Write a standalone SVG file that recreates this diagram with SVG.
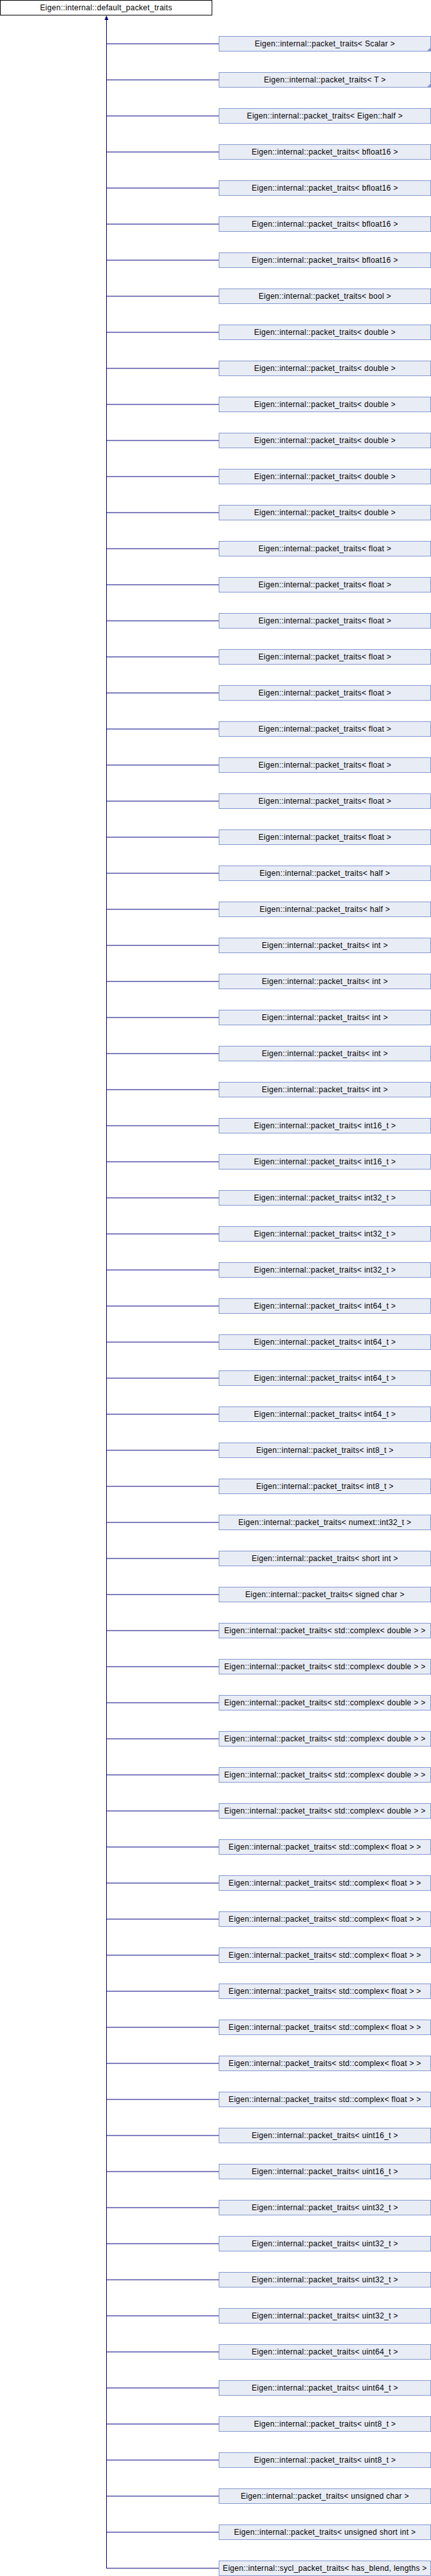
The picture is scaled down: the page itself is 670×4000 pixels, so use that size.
<svg xmlns="http://www.w3.org/2000/svg" width="670" height="4000" viewBox="0 0 670 4000">
<style>
text{font-family:"Liberation Sans",Arial,sans-serif;font-size:12px;letter-spacing:0.3px;text-anchor:middle;fill:#000}
.c{fill:#E8ECF5;stroke:#8497CF;stroke-width:1}
.tri{fill:#8497CF}
.root{fill:#fff;stroke:#000;stroke-width:1}
.e{stroke:#000080;stroke-width:1;fill:none}
</style>
<g id="root"><rect class="root" x="0.5" y="0.5" width="329" height="23"/><text x="165" y="16">Eigen::internal::default_packet_traits</text></g>
<g id="edges">
<polygon points="165.5,24 162.5,31 168.5,31" fill="#000080"/>
<path class="e" d="M165.5 30V3988M165.5 68H340M165.5 124H340M165.5 180H340M165.5 236H340M165.5 292H340M165.5 348H340M165.5 404H340M165.5 460H340M165.5 516H340M165.5 572H340M165.5 628H340M165.5 684H340M165.5 740H340M165.5 796H340M165.5 852H340M165.5 908H340M165.5 964H340M165.5 1020H340M165.5 1076H340M165.5 1132H340M165.5 1188H340M165.5 1244H340M165.5 1300H340M165.5 1356H340M165.5 1412H340M165.5 1468H340M165.5 1524H340M165.5 1580H340M165.5 1636H340M165.5 1692H340M165.5 1748H340M165.5 1804H340M165.5 1860H340M165.5 1916H340M165.5 1972H340M165.5 2028H340M165.5 2084H340M165.5 2140H340M165.5 2196H340M165.5 2252H340M165.5 2308H340M165.5 2364H340M165.5 2420H340M165.5 2476H340M165.5 2532H340M165.5 2588H340M165.5 2644H340M165.5 2700H340M165.5 2756H340M165.5 2812H340M165.5 2868H340M165.5 2924H340M165.5 2980H340M165.5 3036H340M165.5 3092H340M165.5 3148H340M165.5 3204H340M165.5 3260H340M165.5 3316H340M165.5 3372H340M165.5 3428H340M165.5 3484H340M165.5 3540H340M165.5 3596H340M165.5 3652H340M165.5 3708H340M165.5 3764H340M165.5 3820H340M165.5 3876H340M165.5 3932H340M165.5 3988H340"/>
</g>
<g id="n0"><rect class="c" x="340.5" y="56.5" width="329" height="23"/><polygon class="tri" points="669.5,73.5 669.5,79.5 663.5,79.5"/><text x="505" y="72">Eigen::internal::packet_traits&lt; Scalar &gt;</text></g>
<g id="n1" transform="translate(0,56)"><rect class="c" x="340.5" y="56.5" width="329" height="23"/><polygon class="tri" points="669.5,73.5 669.5,79.5 663.5,79.5"/><text x="505" y="72">Eigen::internal::packet_traits&lt; T &gt;</text></g>
<g id="n2" transform="translate(0,112)"><rect class="c" x="340.5" y="56.5" width="329" height="23"/><text x="505" y="72">Eigen::internal::packet_traits&lt; Eigen::half &gt;</text></g>
<g id="n3" transform="translate(0,168)"><rect class="c" x="340.5" y="56.5" width="329" height="23"/><text x="505" y="72">Eigen::internal::packet_traits&lt; bfloat16 &gt;</text></g>
<g id="n4" transform="translate(0,224)"><rect class="c" x="340.5" y="56.5" width="329" height="23"/><text x="505" y="72">Eigen::internal::packet_traits&lt; bfloat16 &gt;</text></g>
<g id="n5" transform="translate(0,280)"><rect class="c" x="340.5" y="56.5" width="329" height="23"/><text x="505" y="72">Eigen::internal::packet_traits&lt; bfloat16 &gt;</text></g>
<g id="n6" transform="translate(0,336)"><rect class="c" x="340.5" y="56.5" width="329" height="23"/><text x="505" y="72">Eigen::internal::packet_traits&lt; bfloat16 &gt;</text></g>
<g id="n7" transform="translate(0,392)"><rect class="c" x="340.5" y="56.5" width="329" height="23"/><text x="505" y="72">Eigen::internal::packet_traits&lt; bool &gt;</text></g>
<g id="n8" transform="translate(0,448)"><rect class="c" x="340.5" y="56.5" width="329" height="23"/><text x="505" y="72">Eigen::internal::packet_traits&lt; double &gt;</text></g>
<g id="n9" transform="translate(0,504)"><rect class="c" x="340.5" y="56.5" width="329" height="23"/><text x="505" y="72">Eigen::internal::packet_traits&lt; double &gt;</text></g>
<g id="n10" transform="translate(0,560)"><rect class="c" x="340.5" y="56.5" width="329" height="23"/><text x="505" y="72">Eigen::internal::packet_traits&lt; double &gt;</text></g>
<g id="n11" transform="translate(0,616)"><rect class="c" x="340.5" y="56.5" width="329" height="23"/><text x="505" y="72">Eigen::internal::packet_traits&lt; double &gt;</text></g>
<g id="n12" transform="translate(0,672)"><rect class="c" x="340.5" y="56.5" width="329" height="23"/><text x="505" y="72">Eigen::internal::packet_traits&lt; double &gt;</text></g>
<g id="n13" transform="translate(0,728)"><rect class="c" x="340.5" y="56.5" width="329" height="23"/><text x="505" y="72">Eigen::internal::packet_traits&lt; double &gt;</text></g>
<g id="n14" transform="translate(0,784)"><rect class="c" x="340.5" y="56.5" width="329" height="23"/><text x="505" y="72">Eigen::internal::packet_traits&lt; float &gt;</text></g>
<g id="n15" transform="translate(0,840)"><rect class="c" x="340.5" y="56.5" width="329" height="23"/><text x="505" y="72">Eigen::internal::packet_traits&lt; float &gt;</text></g>
<g id="n16" transform="translate(0,896)"><rect class="c" x="340.5" y="56.5" width="329" height="23"/><text x="505" y="72">Eigen::internal::packet_traits&lt; float &gt;</text></g>
<g id="n17" transform="translate(0,952)"><rect class="c" x="340.5" y="56.5" width="329" height="23"/><text x="505" y="72">Eigen::internal::packet_traits&lt; float &gt;</text></g>
<g id="n18" transform="translate(0,1008)"><rect class="c" x="340.5" y="56.5" width="329" height="23"/><text x="505" y="72">Eigen::internal::packet_traits&lt; float &gt;</text></g>
<g id="n19" transform="translate(0,1064)"><rect class="c" x="340.5" y="56.5" width="329" height="23"/><text x="505" y="72">Eigen::internal::packet_traits&lt; float &gt;</text></g>
<g id="n20" transform="translate(0,1120)"><rect class="c" x="340.5" y="56.5" width="329" height="23"/><text x="505" y="72">Eigen::internal::packet_traits&lt; float &gt;</text></g>
<g id="n21" transform="translate(0,1176)"><rect class="c" x="340.5" y="56.5" width="329" height="23"/><text x="505" y="72">Eigen::internal::packet_traits&lt; float &gt;</text></g>
<g id="n22" transform="translate(0,1232)"><rect class="c" x="340.5" y="56.5" width="329" height="23"/><text x="505" y="72">Eigen::internal::packet_traits&lt; float &gt;</text></g>
<g id="n23" transform="translate(0,1288)"><rect class="c" x="340.5" y="56.5" width="329" height="23"/><text x="505" y="72">Eigen::internal::packet_traits&lt; half &gt;</text></g>
<g id="n24" transform="translate(0,1344)"><rect class="c" x="340.5" y="56.5" width="329" height="23"/><text x="505" y="72">Eigen::internal::packet_traits&lt; half &gt;</text></g>
<g id="n25" transform="translate(0,1400)"><rect class="c" x="340.5" y="56.5" width="329" height="23"/><text x="505" y="72">Eigen::internal::packet_traits&lt; int &gt;</text></g>
<g id="n26" transform="translate(0,1456)"><rect class="c" x="340.5" y="56.5" width="329" height="23"/><text x="505" y="72">Eigen::internal::packet_traits&lt; int &gt;</text></g>
<g id="n27" transform="translate(0,1512)"><rect class="c" x="340.5" y="56.5" width="329" height="23"/><text x="505" y="72">Eigen::internal::packet_traits&lt; int &gt;</text></g>
<g id="n28" transform="translate(0,1568)"><rect class="c" x="340.5" y="56.5" width="329" height="23"/><text x="505" y="72">Eigen::internal::packet_traits&lt; int &gt;</text></g>
<g id="n29" transform="translate(0,1624)"><rect class="c" x="340.5" y="56.5" width="329" height="23"/><text x="505" y="72">Eigen::internal::packet_traits&lt; int &gt;</text></g>
<g id="n30" transform="translate(0,1680)"><rect class="c" x="340.5" y="56.5" width="329" height="23"/><text x="505" y="72">Eigen::internal::packet_traits&lt; int16_t &gt;</text></g>
<g id="n31" transform="translate(0,1736)"><rect class="c" x="340.5" y="56.5" width="329" height="23"/><text x="505" y="72">Eigen::internal::packet_traits&lt; int16_t &gt;</text></g>
<g id="n32" transform="translate(0,1792)"><rect class="c" x="340.5" y="56.5" width="329" height="23"/><text x="505" y="72">Eigen::internal::packet_traits&lt; int32_t &gt;</text></g>
<g id="n33" transform="translate(0,1848)"><rect class="c" x="340.5" y="56.5" width="329" height="23"/><text x="505" y="72">Eigen::internal::packet_traits&lt; int32_t &gt;</text></g>
<g id="n34" transform="translate(0,1904)"><rect class="c" x="340.5" y="56.5" width="329" height="23"/><text x="505" y="72">Eigen::internal::packet_traits&lt; int32_t &gt;</text></g>
<g id="n35" transform="translate(0,1960)"><rect class="c" x="340.5" y="56.5" width="329" height="23"/><text x="505" y="72">Eigen::internal::packet_traits&lt; int64_t &gt;</text></g>
<g id="n36" transform="translate(0,2016)"><rect class="c" x="340.5" y="56.5" width="329" height="23"/><text x="505" y="72">Eigen::internal::packet_traits&lt; int64_t &gt;</text></g>
<g id="n37" transform="translate(0,2072)"><rect class="c" x="340.5" y="56.5" width="329" height="23"/><text x="505" y="72">Eigen::internal::packet_traits&lt; int64_t &gt;</text></g>
<g id="n38" transform="translate(0,2128)"><rect class="c" x="340.5" y="56.5" width="329" height="23"/><text x="505" y="72">Eigen::internal::packet_traits&lt; int64_t &gt;</text></g>
<g id="n39" transform="translate(0,2184)"><rect class="c" x="340.5" y="56.5" width="329" height="23"/><text x="505" y="72">Eigen::internal::packet_traits&lt; int8_t &gt;</text></g>
<g id="n40" transform="translate(0,2240)"><rect class="c" x="340.5" y="56.5" width="329" height="23"/><text x="505" y="72">Eigen::internal::packet_traits&lt; int8_t &gt;</text></g>
<g id="n41" transform="translate(0,2296)"><rect class="c" x="340.5" y="56.5" width="329" height="23"/><text x="505" y="72">Eigen::internal::packet_traits&lt; numext::int32_t &gt;</text></g>
<g id="n42" transform="translate(0,2352)"><rect class="c" x="340.5" y="56.5" width="329" height="23"/><text x="505" y="72">Eigen::internal::packet_traits&lt; short int &gt;</text></g>
<g id="n43" transform="translate(0,2408)"><rect class="c" x="340.5" y="56.5" width="329" height="23"/><text x="505" y="72">Eigen::internal::packet_traits&lt; signed char &gt;</text></g>
<g id="n44" transform="translate(0,2464)"><rect class="c" x="340.5" y="56.5" width="329" height="23"/><text x="505" y="72">Eigen::internal::packet_traits&lt; std::complex&lt; double &gt; &gt;</text></g>
<g id="n45" transform="translate(0,2520)"><rect class="c" x="340.5" y="56.5" width="329" height="23"/><text x="505" y="72">Eigen::internal::packet_traits&lt; std::complex&lt; double &gt; &gt;</text></g>
<g id="n46" transform="translate(0,2576)"><rect class="c" x="340.5" y="56.5" width="329" height="23"/><text x="505" y="72">Eigen::internal::packet_traits&lt; std::complex&lt; double &gt; &gt;</text></g>
<g id="n47" transform="translate(0,2632)"><rect class="c" x="340.5" y="56.5" width="329" height="23"/><text x="505" y="72">Eigen::internal::packet_traits&lt; std::complex&lt; double &gt; &gt;</text></g>
<g id="n48" transform="translate(0,2688)"><rect class="c" x="340.5" y="56.5" width="329" height="23"/><text x="505" y="72">Eigen::internal::packet_traits&lt; std::complex&lt; double &gt; &gt;</text></g>
<g id="n49" transform="translate(0,2744)"><rect class="c" x="340.5" y="56.5" width="329" height="23"/><text x="505" y="72">Eigen::internal::packet_traits&lt; std::complex&lt; double &gt; &gt;</text></g>
<g id="n50" transform="translate(0,2800)"><rect class="c" x="340.5" y="56.5" width="329" height="23"/><text x="505" y="72">Eigen::internal::packet_traits&lt; std::complex&lt; float &gt; &gt;</text></g>
<g id="n51" transform="translate(0,2856)"><rect class="c" x="340.5" y="56.5" width="329" height="23"/><text x="505" y="72">Eigen::internal::packet_traits&lt; std::complex&lt; float &gt; &gt;</text></g>
<g id="n52" transform="translate(0,2912)"><rect class="c" x="340.5" y="56.5" width="329" height="23"/><text x="505" y="72">Eigen::internal::packet_traits&lt; std::complex&lt; float &gt; &gt;</text></g>
<g id="n53" transform="translate(0,2968)"><rect class="c" x="340.5" y="56.5" width="329" height="23"/><text x="505" y="72">Eigen::internal::packet_traits&lt; std::complex&lt; float &gt; &gt;</text></g>
<g id="n54" transform="translate(0,3024)"><rect class="c" x="340.5" y="56.5" width="329" height="23"/><text x="505" y="72">Eigen::internal::packet_traits&lt; std::complex&lt; float &gt; &gt;</text></g>
<g id="n55" transform="translate(0,3080)"><rect class="c" x="340.5" y="56.5" width="329" height="23"/><text x="505" y="72">Eigen::internal::packet_traits&lt; std::complex&lt; float &gt; &gt;</text></g>
<g id="n56" transform="translate(0,3136)"><rect class="c" x="340.5" y="56.5" width="329" height="23"/><text x="505" y="72">Eigen::internal::packet_traits&lt; std::complex&lt; float &gt; &gt;</text></g>
<g id="n57" transform="translate(0,3192)"><rect class="c" x="340.5" y="56.5" width="329" height="23"/><text x="505" y="72">Eigen::internal::packet_traits&lt; std::complex&lt; float &gt; &gt;</text></g>
<g id="n58" transform="translate(0,3248)"><rect class="c" x="340.5" y="56.5" width="329" height="23"/><text x="505" y="72">Eigen::internal::packet_traits&lt; uint16_t &gt;</text></g>
<g id="n59" transform="translate(0,3304)"><rect class="c" x="340.5" y="56.5" width="329" height="23"/><text x="505" y="72">Eigen::internal::packet_traits&lt; uint16_t &gt;</text></g>
<g id="n60" transform="translate(0,3360)"><rect class="c" x="340.5" y="56.5" width="329" height="23"/><text x="505" y="72">Eigen::internal::packet_traits&lt; uint32_t &gt;</text></g>
<g id="n61" transform="translate(0,3416)"><rect class="c" x="340.5" y="56.5" width="329" height="23"/><text x="505" y="72">Eigen::internal::packet_traits&lt; uint32_t &gt;</text></g>
<g id="n62" transform="translate(0,3472)"><rect class="c" x="340.5" y="56.5" width="329" height="23"/><text x="505" y="72">Eigen::internal::packet_traits&lt; uint32_t &gt;</text></g>
<g id="n63" transform="translate(0,3528)"><rect class="c" x="340.5" y="56.5" width="329" height="23"/><text x="505" y="72">Eigen::internal::packet_traits&lt; uint32_t &gt;</text></g>
<g id="n64" transform="translate(0,3584)"><rect class="c" x="340.5" y="56.5" width="329" height="23"/><text x="505" y="72">Eigen::internal::packet_traits&lt; uint64_t &gt;</text></g>
<g id="n65" transform="translate(0,3640)"><rect class="c" x="340.5" y="56.5" width="329" height="23"/><text x="505" y="72">Eigen::internal::packet_traits&lt; uint64_t &gt;</text></g>
<g id="n66" transform="translate(0,3696)"><rect class="c" x="340.5" y="56.5" width="329" height="23"/><text x="505" y="72">Eigen::internal::packet_traits&lt; uint8_t &gt;</text></g>
<g id="n67" transform="translate(0,3752)"><rect class="c" x="340.5" y="56.5" width="329" height="23"/><text x="505" y="72">Eigen::internal::packet_traits&lt; uint8_t &gt;</text></g>
<g id="n68" transform="translate(0,3808)"><rect class="c" x="340.5" y="56.5" width="329" height="23"/><text x="505" y="72">Eigen::internal::packet_traits&lt; unsigned char &gt;</text></g>
<g id="n69" transform="translate(0,3864)"><rect class="c" x="340.5" y="56.5" width="329" height="23"/><text x="505" y="72">Eigen::internal::packet_traits&lt; unsigned short int &gt;</text></g>
<g id="n70" transform="translate(0,3920)"><rect class="c" x="340.5" y="56.5" width="329" height="23"/><text x="505" y="72">Eigen::internal::sycl_packet_traits&lt; has_blend, lengths &gt;</text></g>
</svg>
